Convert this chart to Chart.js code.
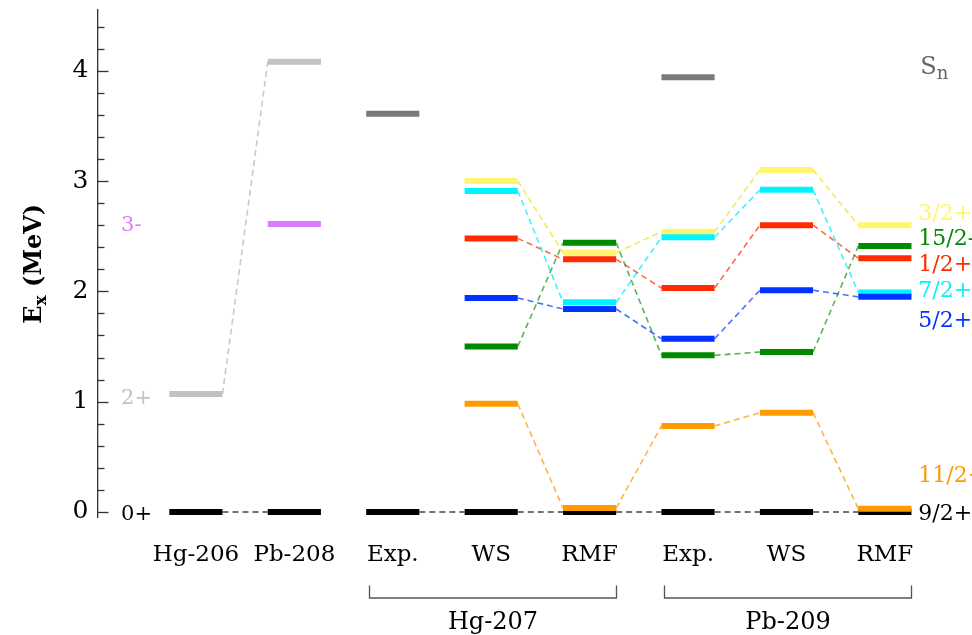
<!DOCTYPE html>
<html>
<head>
<meta charset="utf-8">
<script src="https://cdn.jsdelivr.net/npm/chart.js@4.4.1/dist/chart.umd.min.js"></script>
<style>
  html, body { margin: 0; padding: 0; background: #fff; }
  #wrap { width: 972px; height: 635px; }
</style>
</head>
<body>
<div id="wrap"><canvas id="levels"></canvas></div>
<script>
// columns along the x axis
var columns = ['Hg-206', 'Pb-208', 'Exp.', 'WS', 'RMF', 'Exp.', 'WS', 'RMF'];
var columnGroups = [0, 0, 1, 1, 1, 1, 1, 1];   // dashes only join columns of one group
var yTicks = [0, 1, 2, 3, 4];

// level energies (MeV) per column, null = no level
var groundState    = [0, 0, 0, 0, 0, 0, 0, 0];
var evenTwoPlus    = [1.07, 4.08, null, null, null, null, null, null];
var evenThreeMinus = [null, 2.61, null, null, null, null, null, null];
var neutronSep     = [null, null, 3.61, null, null, 3.94, null, null];
var level11_2 = [null, null, null, 0.98, 0.035, 0.78, 0.90, 0.03];
var level15_2 = [null, null, null, 1.50, 2.44, 1.42, 1.45, 2.41];
var level5_2  = [null, null, null, 1.94, 1.84, 1.57, 2.01, 1.95];
var level1_2  = [null, null, null, 2.48, 2.29, 2.03, 2.60, 2.30];
var level7_2  = [null, null, null, 2.91, 1.90, 2.49, 2.92, 1.99];
var level3_2  = [null, null, null, 3.00, 2.35, 2.54, 3.10, 2.60];

// bracket groups under the axis
var groupNames = ['Hg-207', 'Pb-209'];
var groupFirst = [2, 5];
var groupLast  = [4, 7];

// spin labels
var leftLabels  = ['3-', '2+', '0+'];
var leftLabelE  = [2.60, 1.03, -0.02];
var rightLabels = ['3/2+', '15/2-', '1/2+', '7/2+', '5/2+', '11/2+', '9/2+'];
var rightLabelE = [2.70, 2.47, 2.24, 2.00, 1.73, 0.32, -0.02];

var FONT = '"DejaVu Serif", "Liberation Serif", serif';
var HALF = 0.27;

var C = {
  yellow: '#fff56e', cyan: '#00f4ff', red: '#ff2a00', blue: '#0033ff',
  green: '#008a00', orange: '#ff9a00', black: '#000000',
  lightgrey: '#c2c2c2', darkgrey: '#7a7a7a', purple: '#d77cff'
};

function isBar(ctx)
{
  var r = ctx.chart.data.datasets[ctx.datasetIndex].data[ctx.p0DataIndex];
  return r.x < Math.round(r.x);
}

function levelSeries(values, color, dashColor)
{
  var pts = [];
  var prev = null;
  values.forEach(function (v, i) {
    if (v === null) return;
    if (prev !== null && (prev !== i - 1 || columnGroups[prev] !== columnGroups[i]))
      pts.push({ x: i - 0.5, y: null });
    pts.push({ x: i - HALF, y: v }, { x: i + HALF, y: v });
    prev = i;
  });
  return {
    data: pts,
    borderColor: color,
    borderWidth: 6,
    borderCapStyle: 'butt',
    pointRadius: 0,
    spanGaps: false,
    segment: {
      borderWidth: function (ctx) { return isBar(ctx) ? 6 : 1.6; },
      borderDash: function (ctx) { return isBar(ctx) ? [] : [6, 4]; },
      borderColor: function (ctx) { return isBar(ctx) ? color : dashColor; }
    }
  };
}

// first dataset is drawn on top
var datasets = [
  levelSeries(level11_2, C.orange, 'rgba(255,154,0,0.75)'),
  levelSeries(groundState, C.black, '#444'),
  levelSeries(level5_2, C.blue, 'rgba(0,51,255,0.7)'),
  levelSeries(level7_2, C.cyan, 'rgba(0,235,255,0.75)'),
  levelSeries(level1_2, C.red, 'rgba(255,42,0,0.7)'),
  levelSeries(level3_2, C.yellow, 'rgba(245,230,70,0.9)'),
  levelSeries(level15_2, C.green, 'rgba(0,138,0,0.65)'),
  levelSeries(evenTwoPlus, C.lightgrey, '#c8c8c8'),
  levelSeries(evenThreeMinus, C.purple, C.purple),
  levelSeries(neutronSep, C.darkgrey, C.darkgrey)
];

var rightColors = [C.yellow, C.green, C.red, C.cyan, C.blue, C.orange, C.black];
var leftColors = [C.purple, C.lightgrey, C.black];

var decor = {
  id: 'decor',
  afterDraw: function (chart) {
    var ctx = chart.ctx;
    var xs = chart.scales.x, ys = chart.scales.y;
    var area = chart.chartArea;
    ctx.save();

    // inward ticks on the energy axis
    ctx.strokeStyle = '#333';
    ctx.lineWidth = 1.3;
    for (var k = 0; k <= 22; k++) {
      var v = k * 0.2;
      var y = Math.round(ys.getPixelForValue(v)) + 0.5;
      var len = (k % 5 === 0) ? 11 : 7;
      ctx.beginPath();
      ctx.moveTo(area.left, y);
      ctx.lineTo(area.left + len, y);
      ctx.stroke();
    }

    // axis title E_x (MeV)
    ctx.translate(35, (area.top + area.bottom) / 2);
    ctx.rotate(-Math.PI / 2);
    ctx.fillStyle = '#000';
    ctx.textBaseline = 'middle';
    ctx.textAlign = 'left';
    var big = 'bold 24px ' + FONT, small = 'bold 17px ' + FONT;
    ctx.font = big;
    var wE = ctx.measureText('E').width, wRest = ctx.measureText(' (MeV)').width;
    ctx.font = small;
    var wx = ctx.measureText('x').width;
    var x0 = -(wE + wx + wRest) / 2;
    ctx.font = big;
    ctx.fillText('E', x0, 0);
    ctx.font = small;
    ctx.fillText('x', x0 + wE, 7);
    ctx.font = big;
    ctx.fillText(' (MeV)', x0 + wE + wx, 0);
    ctx.setTransform(1, 0, 0, 1, 0, 0);

    // spin labels
    ctx.font = '21px ' + FONT;
    ctx.textBaseline = 'middle';
    ctx.textAlign = 'left';
    leftLabels.forEach(function (t, i) {
      ctx.fillStyle = leftColors[i];
      ctx.fillText(t, xs.getPixelForValue(-0.76), ys.getPixelForValue(leftLabelE[i]));
    });
    ctx.font = '22px ' + FONT;
    rightLabels.forEach(function (t, i) {
      ctx.fillStyle = rightColors[i];
      ctx.fillText(t, xs.getPixelForValue(7.34), ys.getPixelForValue(rightLabelE[i]));
    });

    // S_n
    ctx.fillStyle = '#666';
    var sx = xs.getPixelForValue(7.36), sy = ys.getPixelForValue(4.03);
    ctx.font = '24px ' + FONT;
    ctx.fillText('S', sx, sy);
    var ws = ctx.measureText('S').width;
    ctx.font = '18px ' + FONT;
    ctx.fillText('n', sx + ws, sy + 7);

    // brackets for the odd nuclei
    ctx.strokeStyle = '#555';
    ctx.lineWidth = 1.3;
    ctx.fillStyle = '#000';
    ctx.textAlign = 'center';
    groupNames.forEach(function (name, g) {
      var a = Math.round(xs.getPixelForValue(groupFirst[g] - HALF)) + 3.5;
      var b = Math.round(xs.getPixelForValue(groupLast[g] + HALF)) + 0.5;
      var top = area.bottom + 68, bot = area.bottom + 80.5;
      ctx.beginPath();
      ctx.moveTo(a, top);
      ctx.lineTo(a, bot);
      ctx.lineTo(b, bot);
      ctx.lineTo(b, top);
      ctx.stroke();
      ctx.font = '24px ' + FONT;
      ctx.fillText(name, (a + b) / 2, area.bottom + 105);
    });
    ctx.restore();
  }
};

Chart.defaults.font.family = FONT;

var levelChart = new Chart(document.getElementById('levels'), {
  type: 'line',
  data: { datasets: datasets },
  plugins: [decor],
  options: {
    animation: false,
    responsive: true,
    maintainAspectRatio: false,
    layout: { padding: { top: 10, left: 0, right: 0, bottom: 0 } },
    plugins: { legend: { display: false }, tooltip: { enabled: false } },
    scales: {
      x: {
        type: 'linear',
        min: -1,
        max: 7.885,
        afterBuildTicks: function (scale) {
          scale.ticks = columns.map(function (c, i) { return { value: i }; });
        },
        afterFit: function (scale) {
          scale.height = 117.5;
          scale.paddingLeft = 0;
          scale.paddingRight = 0;
        },
        grid: { display: false, drawTicks: false },
        border: { display: false },
        ticks: {
          autoSkip: false,
          maxRotation: 0,
          padding: 24,
          color: '#000',
          font: { size: 23 },
          callback: function (v) { return columns[v]; }
        }
      },
      y: {
        type: 'linear',
        min: -0.05,
        max: 4.55,
        afterBuildTicks: function (scale) {
          scale.ticks = yTicks.map(function (v) { return { value: v }; });
        },
        afterFit: function (scale) {
          scale.width = 97.5;
          scale.paddingTop = 0;
          scale.paddingBottom = 0;
        },
        grid: { display: false, drawTicks: false },
        border: { display: true, color: '#333', width: 1.3 },
        ticks: {
          padding: 9,
          color: '#000',
          font: { size: 25 },
          callback: function (v) { return String(v); }
        }
      }
    }
  }
});
</script>
</body>
</html>
